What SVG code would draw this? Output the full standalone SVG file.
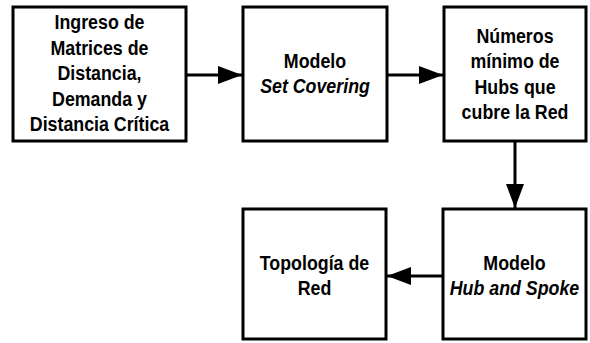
<svg xmlns="http://www.w3.org/2000/svg" width="590" height="343" viewBox="0 0 590 343">
<style>
.box{fill:#fff;stroke:#000;stroke-width:3}
.t{font-family:"Liberation Sans",Arial,sans-serif;font-weight:bold;font-size:20px;text-anchor:middle;fill:#000}
.i{font-style:italic}
.c{stroke:#000;stroke-width:3;fill:none}
</style>
<defs>
<marker id="a" viewBox="0 0 24 18" refX="24" refY="9" markerWidth="24" markerHeight="18" orient="auto" markerUnits="userSpaceOnUse">
<path d="M0,0 L24,9 L0,18 Z" fill="#000"/>
</marker>
</defs>
<rect width="590" height="343" fill="#fff"/>
<g id="n1">
<rect class="box" x="13" y="7" width="173" height="134"/>
<g transform="translate(99.5 0) scale(0.89 1)">
<text class="t" x="0" y="29.5">Ingreso de</text>
<text class="t" x="0" y="55">Matrices de</text>
<text class="t" x="0" y="80.5">Distancia,</text>
<text class="t" x="0" y="106">Demanda y</text>
<text class="t" x="0" y="131.5">Distancia Crítica</text>
</g>
</g>
<g id="n2">
<rect class="box" x="243" y="7" width="144" height="134"/>
<g transform="translate(315 0) scale(0.89 1)">
<text class="t" x="0" y="68">Modelo</text>
<text class="t i" x="0" y="93.5">Set Covering</text>
</g>
</g>
<g id="n3">
<rect class="box" x="444" y="7" width="142" height="134"/>
<g transform="translate(515 0) scale(0.89 1)">
<text class="t" x="0" y="43">Números</text>
<text class="t" x="0" y="68.5">mínimo de</text>
<text class="t" x="0" y="94">Hubs que</text>
<text class="t" x="0" y="119.5">cubre la Red</text>
</g>
</g>
<g id="n4">
<rect class="box" x="443" y="209" width="143" height="130"/>
<g transform="translate(514.5 0) scale(0.89 1)">
<text class="t" x="0" y="270">Modelo</text>
<text class="t i" x="0" y="295">Hub and Spoke</text>
</g>
</g>
<g id="n5">
<rect class="box" x="243" y="209" width="143" height="130"/>
<g transform="translate(314.5 0) scale(0.89 1)">
<text class="t" x="0" y="270">Topología de</text>
<text class="t" x="0" y="295">Red</text>
</g>
</g>
<g id="connectors">
<line class="c" x1="186" y1="75" x2="242" y2="75" marker-end="url(#a)"/>
<line class="c" x1="387" y1="75" x2="443" y2="75" marker-end="url(#a)"/>
<line class="c" x1="515" y1="141" x2="515" y2="208" marker-end="url(#a)"/>
<line class="c" x1="443" y1="276" x2="387" y2="276" marker-end="url(#a)"/>
</g>
</svg>
